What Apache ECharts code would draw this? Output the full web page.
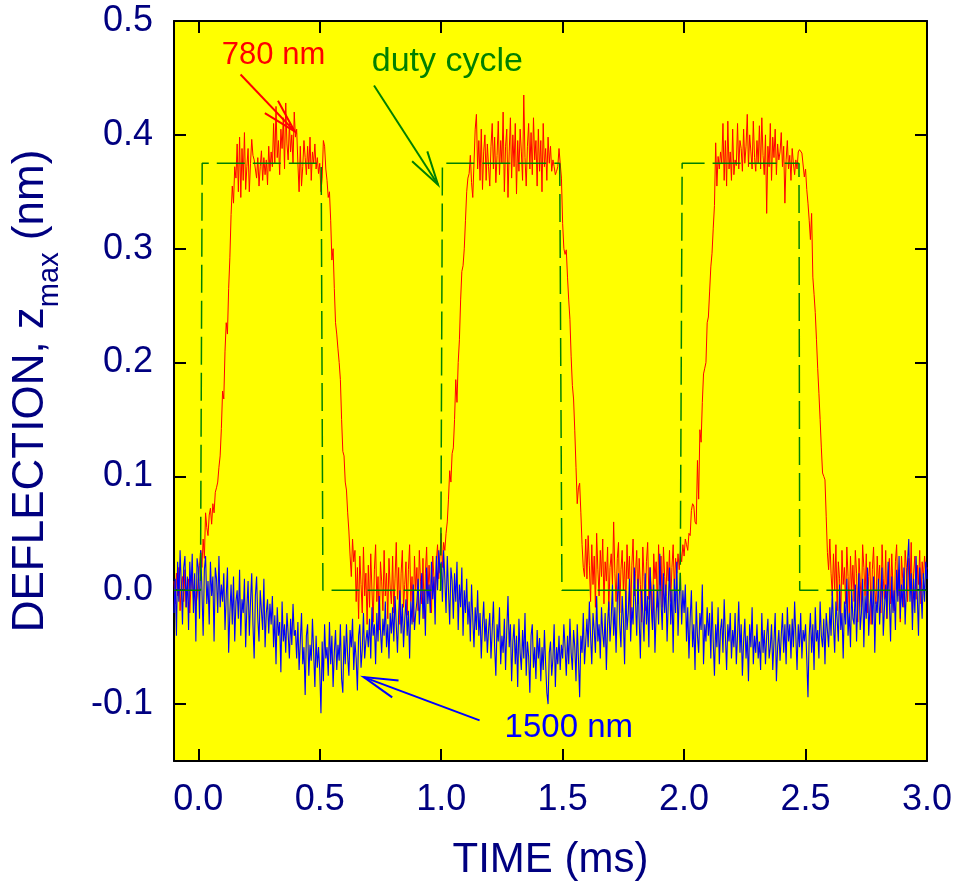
<!DOCTYPE html>
<html><head><meta charset="utf-8">
<script src="https://cdn.jsdelivr.net/npm/echarts@6/dist/echarts.min.js"></script>
<style>html,body{margin:0;padding:0;background:#fff}#chart{width:954px;height:886px}</style>
</head><body><div id="chart"></div>
<script>
// sampling grid of the two measured traces (ms)
const sampleStart = -0.1;
const sampleStep = 0.005;

// 780 nm response (nm), one value per sample
const red780 = [
0.008,-0.012,0.015,-0.005,0.02,-0.018,0.004,0.012,-0.01,0.018,-0.015,0.002,0.01,-0.02,0.006,0.015,-0.008,0.0,-0.014,-0.006,
0.01,0.022,0.035,0.02,0.045,0.028,0.068,0.055,0.048,0.066,0.072,0.058,0.076,0.068,0.086,0.09,0.095,0.108,0.118,0.142,
0.175,0.168,0.21,0.235,0.225,0.265,0.292,0.33,0.355,0.34,0.372,0.362,0.392,0.35,0.398,0.345,0.388,0.36,0.402,0.352,
0.372,0.388,0.35,0.375,0.396,0.382,0.378,0.37,0.362,0.38,0.355,0.372,0.386,0.36,0.38,0.365,0.378,0.356,0.39,0.368,
0.385,0.372,0.41,0.375,0.425,0.38,0.395,0.365,0.405,0.388,0.415,0.37,0.428,0.392,0.378,0.41,0.385,0.4,0.375,0.42,
0.398,0.405,0.375,0.35,0.39,0.355,0.372,0.395,0.38,0.365,0.39,0.37,0.398,0.36,0.385,0.375,0.392,0.37,0.38,0.366,
0.375,0.35,0.362,0.395,0.39,0.37,0.36,0.345,0.35,0.325,0.29,0.3,0.265,0.235,0.225,0.212,0.2,0.185,0.15,0.122,
0.118,0.095,0.088,0.068,0.052,0.03,0.012,0.045,0.025,0.035,-0.01,0.02,-0.025,0.03,0.005,-0.02,0.038,-0.005,0.015,-0.03,
0.022,-0.015,0.032,0.0,-0.028,0.018,0.04,-0.01,0.012,-0.035,0.025,0.008,-0.018,0.035,-0.005,0.015,-0.025,0.028,0.002,-0.012,
0.03,-0.02,0.01,0.042,-0.008,0.02,-0.03,0.015,0.035,-0.015,0.005,0.025,-0.022,0.018,0.04,-0.01,0.012,-0.028,0.03,0.0,
0.02,-0.018,0.035,0.008,-0.012,0.028,-0.025,0.015,0.038,-0.005,0.022,0.0,-0.02,0.03,0.012,-0.008,0.025,0.04,0.01,0.03,
0.05,0.02,0.042,0.035,0.05,0.06,0.08,0.105,0.095,0.12,0.125,0.15,0.185,0.165,0.2,0.22,0.255,0.28,0.285,0.3,
0.325,0.35,0.362,0.366,0.382,0.358,0.345,0.375,0.405,0.418,0.37,0.395,0.36,0.405,0.352,0.385,0.4,0.36,0.392,0.372,
0.355,0.39,0.41,0.37,0.398,0.358,0.382,0.412,0.365,0.395,0.375,0.42,0.35,0.39,0.405,0.345,0.385,0.415,0.362,0.4,
0.372,0.41,0.348,0.395,0.368,0.405,0.385,0.36,0.435,0.38,0.355,0.39,0.41,0.37,0.402,0.365,0.415,0.378,0.395,0.355,
0.405,0.368,0.395,0.35,0.41,0.372,0.388,0.36,0.398,0.375,0.39,0.368,0.378,0.372,0.365,0.368,0.372,0.388,0.375,0.362,
0.322,0.3,0.295,0.299,0.275,0.255,0.238,0.205,0.18,0.168,0.14,0.108,0.076,0.09,0.094,0.068,0.04,0.02,0.012,0.045,
0.01,0.048,0.022,-0.01,0.04,0.005,0.03,-0.015,0.05,0.018,-0.005,0.035,0.012,0.045,-0.012,0.025,0.008,0.038,-0.018,0.02,
0.032,0.005,0.06,0.015,-0.01,0.028,0.042,-0.02,0.018,0.035,0.0,0.025,-0.015,0.04,0.01,0.03,-0.025,0.022,0.045,-0.005,
0.015,0.035,-0.012,0.028,0.005,-0.028,0.038,0.012,-0.018,0.025,0.042,-0.008,0.02,0.0,-0.03,0.032,0.01,0.025,-0.015,0.04,
0.005,0.03,-0.015,0.038,0.012,-0.005,0.025,0.008,0.035,-0.01,0.02,0.04,0.0,0.028,0.015,0.032,0.018,0.035,0.025,0.04,
0.03,0.045,0.04,0.035,0.05,0.048,0.07,0.076,0.074,0.06,0.058,0.114,0.08,0.141,0.13,0.165,0.19,0.195,0.2,0.235,
0.24,0.262,0.284,0.296,0.318,0.338,0.393,0.355,0.381,0.37,0.385,0.375,0.41,0.36,0.395,0.355,0.412,0.37,0.385,0.36,
0.405,0.365,0.378,0.373,0.41,0.37,0.395,0.388,0.368,0.405,0.375,0.39,0.418,0.372,0.4,0.385,0.37,0.412,0.38,0.368,
0.395,0.375,0.408,0.37,0.415,0.382,0.365,0.4,0.331,0.39,0.372,0.41,0.36,0.398,0.38,0.405,0.365,0.392,0.378,0.385,
0.402,0.372,0.39,0.34,0.378,0.395,0.37,0.382,0.36,0.388,0.375,0.365,0.378,0.37,0.385,0.387,0.388,0.384,0.385,0.363,
0.37,0.352,0.34,0.325,0.308,0.331,0.275,0.26,0.244,0.22,0.195,0.173,0.15,0.125,0.103,0.1,0.097,0.065,0.033,0.018,
0.045,0.015,-0.005,0.032,0.0,0.04,-0.018,0.025,0.01,-0.025,0.035,0.005,0.02,-0.012,0.038,0.012,-0.02,0.03,0.0,0.022,
-0.01,0.035,0.015,-0.028,0.028,0.008,-0.015,0.04,0.02,-0.005,0.032,-0.02,0.012,0.025,-0.03,0.018,0.038,0.0,-0.012,0.03,
0.005,0.022,-0.02,0.04,0.01,-0.008,0.035,-0.025,0.015,0.028,-0.012,0.032,0.002,-0.018,0.025,0.04,-0.005,0.018,-0.028,0.03,
0.01,-0.015,0.035,0.02,-0.01,0.028,0.0,0.042,-0.02,0.015,0.03,-0.008,0.022,0.005,0.035,-0.012,0.025,0.01,0.03,0.015,
0.02
];

// 1500 nm response (nm), one value per sample
const blue1500 = [
-0.02,0.01,-0.04,0.025,-0.01,0.035,0.005,-0.03,0.02,0.03,-0.015,0.012,-0.035,0.025,0.0,0.032,-0.02,0.015,-0.045,0.028,
0.02,-0.025,0.035,0.0,-0.04,0.018,0.03,-0.012,0.008,-0.03,0.025,-0.005,0.012,-0.045,0.02,0.01,-0.02,0.03,-0.015,0.005,
-0.01,0.015,-0.035,-0.005,0.02,-0.055,-0.02,0.005,-0.03,0.012,-0.045,-0.01,0.0,-0.025,0.018,-0.04,-0.008,-0.02,0.01,-0.05,
-0.015,0.008,-0.04,-0.01,0.015,-0.03,-0.06,-0.005,0.012,-0.025,-0.045,0.0,-0.018,-0.035,0.01,-0.05,-0.02,-0.008,-0.038,-0.012,
-0.03,-0.005,-0.05,-0.022,-0.065,-0.015,-0.04,-0.028,-0.072,-0.01,-0.045,-0.03,-0.055,-0.02,-0.038,-0.06,-0.025,-0.048,-0.012,-0.04,
-0.035,-0.06,-0.028,-0.07,-0.045,-0.02,-0.065,-0.05,-0.092,-0.04,-0.03,-0.075,-0.048,-0.062,-0.025,-0.055,-0.085,-0.04,-0.068,-0.05,
-0.07,-0.108,-0.045,-0.08,-0.03,-0.06,-0.05,-0.075,-0.028,-0.065,-0.04,-0.085,-0.055,-0.035,-0.07,-0.048,-0.062,-0.03,-0.078,-0.09,
-0.04,-0.065,-0.03,-0.058,-0.075,-0.035,-0.05,-0.025,-0.07,-0.045,-0.06,-0.088,-0.04,-0.03,-0.068,-0.052,-0.02,-0.06,-0.045,-0.035,
-0.05,-0.025,-0.06,-0.015,-0.04,-0.03,-0.065,-0.02,-0.045,-0.005,-0.035,-0.055,-0.025,-0.04,-0.01,-0.05,-0.03,-0.06,-0.02,-0.038,
-0.015,-0.045,-0.005,-0.03,-0.055,-0.02,0.0,-0.038,-0.012,-0.05,-0.025,-0.008,-0.04,-0.018,-0.06,-0.01,-0.03,0.005,-0.035,-0.02,
-0.01,0.01,-0.03,-0.005,0.015,-0.025,0.0,-0.04,0.02,-0.012,0.005,-0.02,0.025,-0.008,0.012,-0.03,0.03,0.0,0.035,0.015,
0.025,-0.01,0.035,0.01,-0.02,0.03,0.0,-0.03,0.02,0.008,-0.025,0.015,-0.01,0.025,-0.035,0.005,-0.015,0.02,-0.04,0.0,
-0.02,0.01,-0.03,-0.01,-0.045,0.005,-0.025,-0.05,-0.015,-0.035,0.0,-0.04,-0.02,-0.06,-0.03,-0.01,-0.045,-0.025,-0.055,-0.035,
-0.02,-0.06,-0.035,-0.01,-0.05,-0.075,-0.03,-0.045,-0.015,-0.065,-0.04,-0.055,-0.025,-0.07,-0.035,-0.005,-0.05,-0.03,-0.08,-0.045,
-0.03,-0.065,-0.04,-0.085,-0.025,-0.055,-0.07,-0.035,-0.06,-0.02,-0.075,-0.045,-0.058,-0.09,-0.04,-0.03,-0.068,-0.05,-0.078,-0.035,
-0.06,-0.042,-0.08,-0.05,-0.07,-0.035,-0.065,-0.09,-0.1,-0.055,-0.045,-0.075,-0.06,-0.03,-0.085,-0.05,-0.065,-0.04,-0.07,-0.048,
-0.06,-0.03,-0.05,-0.075,-0.04,-0.065,-0.025,-0.055,-0.07,-0.035,-0.05,-0.08,-0.03,-0.06,-0.094,-0.04,-0.055,-0.02,-0.065,-0.045,
-0.025,-0.05,-0.01,-0.04,-0.065,-0.02,-0.035,-0.055,-0.005,-0.045,-0.03,-0.06,-0.015,-0.038,-0.05,-0.02,-0.07,-0.03,-0.01,-0.045,
-0.025,0.005,-0.04,-0.015,-0.055,-0.01,0.015,-0.03,-0.05,-0.005,-0.025,-0.065,0.0,-0.035,-0.02,0.01,-0.045,-0.015,-0.03,0.02,
-0.01,-0.04,0.01,-0.025,-0.06,0.0,-0.02,-0.045,0.015,-0.03,-0.005,-0.05,0.02,-0.015,-0.035,0.005,-0.055,-0.02,0.0,-0.03,
0.032,-0.01,-0.035,0.015,-0.02,0.005,-0.045,-0.01,0.02,-0.03,0.0,-0.055,0.01,-0.02,0.025,-0.04,-0.005,0.015,-0.03,0.0,
-0.02,0.005,-0.045,-0.015,-0.06,-0.025,0.0,-0.05,-0.03,-0.07,-0.01,-0.04,-0.055,-0.02,-0.035,0.005,-0.065,-0.03,-0.045,-0.015,
-0.04,-0.02,-0.06,-0.01,-0.045,-0.075,-0.03,-0.05,-0.015,-0.065,-0.035,-0.025,-0.055,-0.008,-0.04,-0.07,-0.03,-0.045,-0.02,-0.06,
-0.035,-0.05,-0.02,-0.065,-0.04,-0.01,-0.055,-0.03,-0.075,-0.045,-0.025,-0.06,-0.04,-0.08,-0.03,-0.05,-0.015,-0.065,-0.04,-0.055,
-0.03,-0.06,-0.045,-0.07,-0.02,-0.055,-0.035,-0.065,-0.04,-0.025,-0.06,-0.05,-0.03,-0.07,-0.045,-0.02,-0.08,-0.05,-0.035,-0.062,
-0.04,-0.02,-0.055,-0.03,-0.065,-0.015,-0.045,-0.03,-0.06,-0.025,-0.05,-0.01,-0.04,-0.07,-0.03,-0.05,-0.02,-0.06,-0.035,-0.045,
-0.03,-0.06,-0.094,-0.04,-0.02,-0.055,-0.03,-0.07,-0.015,-0.045,-0.035,-0.06,-0.01,-0.04,-0.05,-0.025,-0.065,-0.02,-0.035,-0.05,
-0.015,-0.04,0.0,-0.03,-0.055,-0.01,-0.025,-0.045,0.005,-0.035,-0.02,-0.06,-0.01,-0.03,0.01,-0.04,-0.02,-0.05,0.0,-0.025,
-0.03,0.005,-0.045,-0.01,0.015,-0.035,-0.02,0.01,-0.05,-0.005,-0.025,0.02,-0.04,-0.015,0.0,-0.03,0.012,-0.055,-0.01,-0.02,
0.01,-0.03,-0.005,0.02,-0.04,-0.015,0.005,-0.025,0.025,-0.01,-0.045,0.012,-0.02,0.0,-0.035,0.018,-0.01,0.03,-0.025,0.005,
-0.015,0.02,-0.03,0.0,0.025,0.045,-0.01,0.015,-0.035,0.01,-0.02,0.03,-0.005,-0.04,0.02,0.0,-0.025,0.015,-0.01,0.025,
0.01
];

// duty cycle (square drive signal)
const dutyTimes  = [-0.1, 0.009, 0.016, 0.506, 0.513, 0.998, 1.005, 1.488, 1.497, 1.984, 1.992, 2.473, 2.476, 3.0];
const dutyValues = [0, 0, 0.375, 0.375, 0, 0, 0.375, 0.375, 0, 0, 0.375, 0.375, 0, 0];

const xTicks = [0, 0.5, 1.0, 1.5, 2.0, 2.5, 3.0];
const yTicks = [-0.1, 0, 0.1, 0.2, 0.3, 0.4, 0.5];

// annotations in data coordinates
const notes = [
  {text: '780 nm',     color: '#ff0000', size: 31, at: [0.097, 0.470], tail: [0.174, 0.453], tip: [0.397, 0.403]},
  {text: 'duty cycle', color: '#008000', size: 34, at: [0.714, 0.464], tail: [0.7235, 0.4433], tip: [0.987, 0.3562]},
  {text: '1500 nm',    color: '#0000ff', size: 33, at: [1.261, -0.121], tail: [1.158, -0.1143], tip: [0.681, -0.0763]}
];

const FONT = '"Liberation Sans", Arial, Helvetica, sans-serif';
const NAVY = '#000080';

function sampleTime(i) { return Math.round((sampleStart + i * sampleStep) * 1000) / 1000; }
const redData = red780.map((v, i) => [sampleTime(i), v]);
const blueData = blue1500.map((v, i) => [sampleTime(i), v]);
const dutyData = dutyTimes.map((t, i) => [t, dutyValues[i]]);

const chart = echarts.init(document.getElementById('chart'), null, {renderer: 'canvas'});

const axisLineStyle = {show: true, onZero: false, lineStyle: {color: '#000', width: 2}};
const fmt = v => (Math.abs(v) < 1e-9 ? 0 : v).toFixed(1);

const option = {
  animation: false,
  backgroundColor: '#ffffff',
  grid: {left: 174, right: 27, top: 21, bottom: 125, show: true, backgroundColor: '#ffff00', borderWidth: 0,
         containLabel: false, outerBoundsMode: 'none'},
  xAxis: [
    {
      type: 'value', min: -0.1, max: 3.0, position: 'bottom',
      axisLine: axisLineStyle,
      axisTick: {show: true, inside: true, length: 12, customValues: xTicks, lineStyle: {color: '#000', width: 2}},
      axisLabel: {show: true, customValues: xTicks, formatter: fmt, color: NAVY, fontSize: 36, fontFamily: FONT, margin: 21},
      splitLine: {show: false},
      name: 'TIME (ms)', nameLocation: 'middle', nameGap: 78,
      nameTextStyle: {color: NAVY, fontSize: 42, fontFamily: FONT}
    },
    {
      type: 'value', min: -0.1, max: 3.0, position: 'top',
      axisLine: axisLineStyle,
      axisTick: {show: true, inside: true, length: 12, customValues: xTicks, lineStyle: {color: '#000', width: 2}},
      axisLabel: {show: false}, splitLine: {show: false}
    }
  ],
  yAxis: [
    {
      type: 'value', min: -0.15, max: 0.5, position: 'left',
      axisLine: axisLineStyle,
      axisTick: {show: true, inside: true, length: 12, customValues: yTicks, lineStyle: {color: '#000', width: 2}},
      axisLabel: {show: true, customValues: yTicks, formatter: fmt, color: NAVY, fontSize: 36, fontFamily: FONT, margin: 21},
      splitLine: {show: false},
      name: '{a|DEFLECTION, z}{b|max}{a| (nm)}', nameLocation: 'middle', nameRotate: 90, nameGap: 110,
      nameTextStyle: {
        color: NAVY, fontFamily: FONT, fontSize: 44,
        rich: {
          a: {color: NAVY, fontFamily: FONT, fontSize: 44},
          b: {color: NAVY, fontFamily: FONT, fontSize: 29, padding: [38, 0, 0, 0]}
        }
      }
    },
    {
      type: 'value', min: -0.15, max: 0.5, position: 'right',
      axisLine: axisLineStyle,
      axisTick: {show: true, inside: true, length: 12, customValues: yTicks, lineStyle: {color: '#000', width: 2}},
      axisLabel: {show: false}, splitLine: {show: false}
    }
  ],
  series: [
    {type: 'line', name: '780 nm', data: redData, xAxisIndex: 0, yAxisIndex: 0, symbol: 'none', showSymbol: false,
     lineStyle: {color: '#ff0000', width: 1}, z: 2},
    {type: 'line', name: '1500 nm', data: blueData, xAxisIndex: 0, yAxisIndex: 0, symbol: 'none', showSymbol: false,
     lineStyle: {color: '#0000ff', width: 1.1}, z: 3},
    {type: 'line', name: 'duty cycle', data: dutyData, xAxisIndex: 0, yAxisIndex: 0, symbol: 'none', showSymbol: false,
     lineStyle: {color: '#008000', width: 1.5, type: [28, 8]}, z: 4}
  ]
};
chart.setOption(option);

// annotation arrows and labels placed through the chart's own coordinate system
function toPx(p) { return chart.convertToPixel({xAxisIndex: 0, yAxisIndex: 0}, p); }
const graphics = [];
notes.forEach(n => {
  const at = toPx(n.at), tail = toPx(n.tail), tip = toPx(n.tip);
  const ang = Math.atan2(tail[1] - tip[1], tail[0] - tip[0]);
  const headLen = 35, half = 15 * Math.PI / 180;
  const h1 = [tip[0] + headLen * Math.cos(ang - half), tip[1] + headLen * Math.sin(ang - half)];
  const h2 = [tip[0] + headLen * Math.cos(ang + half), tip[1] + headLen * Math.sin(ang + half)];
  graphics.push({type: 'line', z: 10, shape: {x1: tail[0], y1: tail[1], x2: tip[0], y2: tip[1]},
                 style: {stroke: n.color, lineWidth: 2}});
  graphics.push({type: 'polyline', z: 10, shape: {points: [h1, tip, h2]},
                 style: {stroke: n.color, lineWidth: 2, fill: null}});
  graphics.push({type: 'text', z: 10, x: at[0], y: at[1],
                 style: {text: n.text, fill: n.color, fontSize: n.size, fontFamily: FONT, align: 'left', verticalAlign: 'middle'}});
});
chart.setOption({graphic: graphics});
</script>
</body></html>
